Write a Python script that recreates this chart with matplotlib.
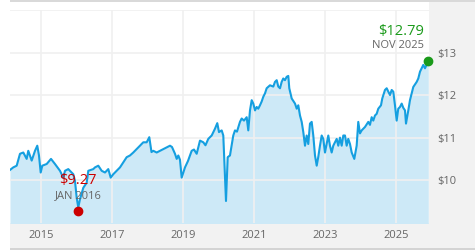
import matplotlib
matplotlib.use("Agg")
import matplotlib.pyplot as plt
from matplotlib.patches import Rectangle
from matplotlib.ticker import FuncFormatter

# share price history (fractional years, dollars)
years = [
    2014.137, 2014.229, 2014.325, 2014.418, 2014.511, 2014.606, 2014.651, 2014.747,
    2014.840, 2014.904, 2014.952, 2015.000, 2015.045, 2015.169, 2015.290, 2015.402,
    2015.543, 2015.636, 2015.683, 2015.776, 2015.917, 2015.965, 2016.012, 2016.057,
    2016.105, 2016.198, 2016.294, 2016.339, 2016.479, 2016.527, 2016.620, 2016.715,
    2016.808, 2016.901, 2016.969, 2017.042, 2017.137, 2017.230, 2017.323, 2017.418,
    2017.511, 2017.604, 2017.700, 2017.792, 2017.885, 2017.981, 2018.054, 2018.116,
    2018.166, 2018.262, 2018.355, 2018.448, 2018.543, 2018.636, 2018.692, 2018.777,
    2018.825, 2018.870, 2018.917, 2018.965, 2019.058, 2019.142, 2019.246, 2019.311,
    2019.387, 2019.480, 2019.573, 2019.634, 2019.713, 2019.809, 2019.902, 2019.966,
    2020.014, 2020.090, 2020.135, 2020.163, 2020.211, 2020.259, 2020.323, 2020.416,
    2020.464, 2020.520, 2020.604, 2020.652, 2020.717, 2020.793, 2020.838, 2020.886,
    2020.934, 2020.979, 2021.027, 2021.074, 2021.119, 2021.167, 2021.215, 2021.260,
    2021.308, 2021.355, 2021.448, 2021.541, 2021.589, 2021.637, 2021.682, 2021.730,
    2021.777, 2021.822, 2021.870, 2021.918, 2021.963, 2021.991, 2022.059, 2022.152,
    2022.200, 2022.244, 2022.292, 2022.340, 2022.385, 2022.433, 2022.480, 2022.525,
    2022.573, 2022.621, 2022.666, 2022.714, 2022.762, 2022.807, 2022.854, 2022.902,
    2022.947, 2022.995, 2023.043, 2023.088, 2023.135, 2023.183, 2023.228, 2023.324,
    2023.369, 2023.417, 2023.465, 2023.510, 2023.557, 2023.605, 2023.650, 2023.698,
    2023.746, 2023.819, 2023.886, 2023.931, 2023.979, 2024.027, 2024.120, 2024.213,
    2024.260, 2024.308, 2024.353, 2024.401, 2024.449, 2024.494, 2024.570, 2024.606,
    2024.682, 2024.730, 2024.775, 2024.823, 2024.871, 2024.916, 2024.963, 2025.011,
    2025.056, 2025.104, 2025.152, 2025.197, 2025.245, 2025.273, 2025.338, 2025.385,
    2025.433, 2025.478, 2025.574, 2025.619, 2025.667, 2025.715, 2025.760, 2025.807,
    2025.855, 2025.900,
]
prices = [
    10.24, 10.30, 10.34, 10.62, 10.65, 10.50, 10.69, 10.46,
    10.69, 10.81, 10.58, 10.18, 10.34, 10.38, 10.50, 10.38,
    10.22, 10.06, 10.22, 10.26, 10.14, 9.98, 9.59, 9.36,
    9.55, 9.82, 9.94, 10.22, 10.26, 10.30, 10.34, 10.22,
    10.18, 10.26, 10.06, 10.14, 10.22, 10.30, 10.42, 10.54,
    10.58, 10.65, 10.73, 10.81, 10.89, 10.89, 11.01, 10.66,
    10.69, 10.65, 10.69, 10.73, 10.77, 10.81, 10.78, 10.62,
    10.50, 10.58, 10.48, 10.06, 10.30, 10.45, 10.69, 10.72,
    10.62, 10.93, 10.89, 10.82, 10.97, 11.05, 11.21, 11.34,
    11.13, 11.17, 11.05, 10.46, 9.51, 10.54, 10.58, 11.05,
    11.17, 11.14, 11.37, 11.45, 11.40, 11.48, 11.17, 11.64,
    11.88, 11.80, 11.64, 11.72, 11.68, 11.76, 11.85, 11.96,
    12.04, 12.16, 12.23, 12.20, 12.31, 12.35, 12.20, 12.16,
    12.31, 12.39, 12.35, 12.43, 12.45, 12.16, 11.92, 11.80,
    11.68, 11.76, 11.52, 11.37, 11.13, 10.81, 11.05, 10.85,
    11.33, 11.37, 11.05, 10.58, 10.34, 10.55, 10.81, 11.05,
    10.97, 10.65, 10.85, 11.05, 10.81, 10.65, 10.81, 10.97,
    10.81, 11.00, 10.81, 11.05, 11.05, 10.81, 10.97, 10.85,
    10.65, 10.50, 10.81, 11.37, 11.10, 11.17, 11.25, 11.37,
    11.30, 11.48, 11.40, 11.52, 11.56, 11.68, 11.76, 11.92,
    12.12, 12.16, 12.08, 12.00, 12.12, 12.08, 11.76, 11.40,
    11.68, 11.72, 11.80, 11.70, 11.64, 11.33, 11.64, 11.88,
    12.04, 12.19, 12.31, 12.39, 12.55, 12.63, 12.71, 12.63,
    12.71, 12.79,
]

low_year, low_price, low_label = 2016.057, 9.27, "JAN 2016"
high_year, high_price, high_label = 2025.900, 12.79, "NOV 2025"

year_ticks = [2015, 2017, 2019, 2021, 2023, 2025]
price_ticks = [10, 11, 12, 13]

plt.rcParams["font.family"] = ["Open Sans", "DejaVu Sans"]

W, H = 475, 250
fig = plt.figure(figsize=(W / 100, H / 100), dpi=100)
fig.patch.set_facecolor("white")

# gray frame around the plot area
panel = "#f2f2f2"
fig.add_artist(Rectangle((429 / W, 2 / H), 46 / W, 246 / H, transform=fig.transFigure,
                         facecolor=panel, edgecolor="none", zorder=-2))
fig.add_artist(Rectangle((10 / W, 2 / H), 419 / W, 25.3 / H, transform=fig.transFigure,
                         facecolor=panel, edgecolor="none", zorder=-2))
fig.add_artist(Rectangle((10 / W, 248 / H), 465 / W, 2 / H, transform=fig.transFigure,
                         facecolor="#d9d9d9", edgecolor="none", zorder=-2))
fig.add_artist(Rectangle((10 / W, 0), 465 / W, 2 / H, transform=fig.transFigure,
                         facecolor="#d4d4d4", edgecolor="none", zorder=-2))

ax = fig.add_axes([10 / W, 27.3 / H, 419 / W, 212.7 / H])
ax.set_facecolor("white")

ax.fill_between(years, prices, 8, color="#cde9f7", linewidth=0, zorder=1)
for y in price_ticks + [14]:
    ax.axhline(y, color="#f0f0f0", linewidth=1.2, zorder=2)
for x in year_ticks:
    ax.axvline(x, color="#f0f0f0", linewidth=1.2, zorder=2)
ax.plot(years, prices, color="#159fe0", linewidth=1.5, zorder=3)

ax.set_xlim(2014.137, 2025.92)
ax.set_ylim(9, 14)

ax.set_xticks(year_ticks)
ax.set_xticklabels([str(y) for y in year_ticks])
ax.yaxis.tick_right()
ax.set_yticks(price_ticks)
ax.yaxis.set_major_formatter(FuncFormatter(lambda v, _: f"${v:.0f}"))
ax.tick_params(axis="x", length=0, pad=5, labelsize=8, labelcolor="#666666")
ax.tick_params(axis="y", length=0, pad=6, labelsize=8, labelcolor="#666666")
for s in ax.spines.values():
    s.set_visible(False)

# low point marker
ax.plot([low_year], [low_price], "o", color="#cc0000", markersize=6, zorder=5, clip_on=False)
ax.annotate(f"${low_price:.2f}", (low_year, low_price), xytext=(0, 31),
            textcoords="offset pixels", ha="center", va="center",
            fontsize=10.5, color="#cc0000", zorder=6)
ax.annotate(low_label, (low_year, low_price), xytext=(0, 16),
            textcoords="offset pixels", ha="center", va="center",
            fontsize=8, color="#666666", zorder=6)

# latest / high point marker
ax.plot([high_year], [high_price], "o", color="#1a9a1a", markersize=6, zorder=5, clip_on=False)
ax.annotate(f"${high_price:.2f}", (high_year, high_price), xytext=(-4, 30),
            textcoords="offset pixels", ha="right", va="center",
            fontsize=10.5, color="#1a9a1a", zorder=6, annotation_clip=False)
ax.annotate(high_label, (high_year, high_price), xytext=(-4, 16),
            textcoords="offset pixels", ha="right", va="center",
            fontsize=8, color="#666666", zorder=6, annotation_clip=False)

fig.savefig("out.png", dpi=100)
